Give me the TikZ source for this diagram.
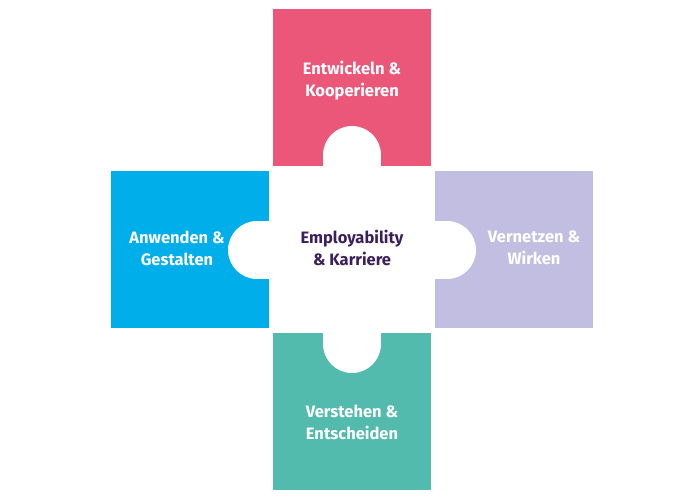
\documentclass[tikz,border=0pt]{standalone}
\usepackage{fontspec}
\setmainfont{Fira Sans}
\usepackage{tikz}
\usetikzlibrary{positioning}
\usepackage{xcolor}
\definecolor{piecepink}{HTML}{EB5779}
\definecolor{piececyan}{HTML}{00AEEA}
\definecolor{piecelilac}{HTML}{C1BEE1}
\definecolor{pieceteal}{HTML}{52BBAE}
\definecolor{centerpurple}{HTML}{3B1F5C}

\begin{document}
\begin{tikzpicture}[x=1pt, y=-1pt,
    every node/.style={font=\bfseries\fontsize{16.5}{22}\selectfont, align=center, text=white}]
  \useasboundingbox (0,0) rectangle (700,500);
  % top: pink piece
  \fill[piecepink] (273,9) rectangle (431,166);
  \fill[white] (352,155) circle (29);
  \fill[white] (323,155) rectangle (381,171);
  \node (entw) at (352,81) {Entwickeln \&\\Kooperieren};
  % left: cyan piece
  \fill[piececyan] (111,171) rectangle (269,328);
  \fill[white] (257,250) circle (29);
  \fill[white] (257,221) rectangle (273,279);
  \node (anw) at (177,248) {Anwenden \&\\Gestalten};
  % right: lilac piece
  \fill[piecelilac] (435,171) rectangle (593,328);
  \fill[white] (447,250) circle (29);
  \fill[white] (431,221) rectangle (447,279);
  \node (vern) at (534,248) {Vernetzen \&\\Wirken};
  % bottom: teal piece
  \fill[pieceteal] (273,333) rectangle (431,490);
  \fill[white] (352,344) circle (29);
  \fill[white] (323,328) rectangle (381,344);
  \node (verst) at (352,422) {Verstehen \&\\Entscheiden};
  % center
  \node[text=centerpurple] (empl) at (352,248) {Employability\\\& Karriere};
\end{tikzpicture}
\end{document}
